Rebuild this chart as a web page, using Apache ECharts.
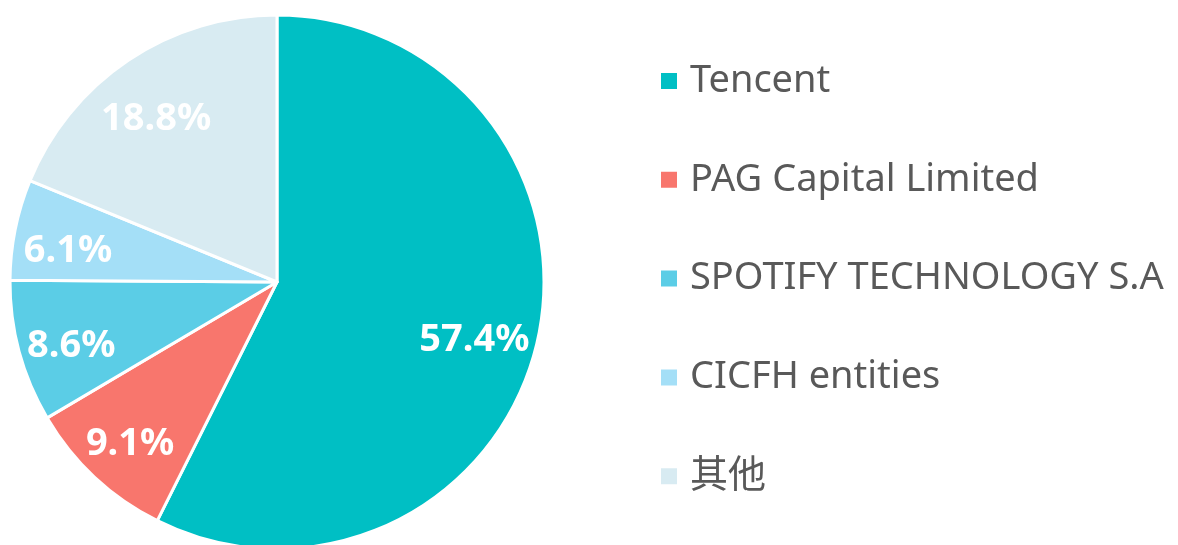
<!DOCTYPE html>
<html>
<head>
<meta charset="utf-8">
<script src="https://cdn.jsdelivr.net/npm/echarts@6/dist/echarts.min.js"></script>
<style>
  html, body { margin: 0; padding: 0; background: #fff; }
  #main { width: 1178px; height: 545px; }
</style>
</head>
<body>
<div id="main"></div>
<script>
// 股东名称
var names = ['Tencent', 'PAG Capital Limited', 'SPOTIFY TECHNOLOGY S.A', 'CICFH entities', '其他'];
// 持股比例 (%)
var shares = [57.4, 9.1, 8.6, 6.1, 18.8];
var colors = ['#00BFC4', '#F8766D', '#5BCDE6', '#A4DFF7', '#D8EBF2'];

var chart = echarts.init(document.getElementById('main'), null, { renderer: 'canvas' });

var pieData = [];
for (var i = 0; i < names.length; i++) {
  pieData.push({ name: names[i], value: shares[i], itemStyle: { color: colors[i] } });
}

chart.setOption({
  animation: false,
  legend: {
    orient: 'vertical',
    left: 659,
    top: 61,
    padding: 0,
    icon: 'rect',
    itemWidth: 18,
    itemHeight: 18,
    itemGap: 58.8,
    data: names,
    textStyle: {
      fontFamily: '"Noto Sans", "Noto Sans CJK SC", sans-serif',
      fontSize: 38,
      lineHeight: 40,
      color: '#595959',
      padding: [0, 0, 0, 7]
    }
  },
  series: [
    {
      // 饼图本体
      type: 'pie',
      center: [277, 282],
      radius: [0, 267],
      startAngle: 90,
      data: pieData,
      itemStyle: { borderColor: '#fff', borderWidth: 3 },
      label: { show: false },
      labelLine: { show: false }
    },
    {
      // 只用来放百分比标签
      type: 'pie',
      silent: true,
      center: [277, 282],
      radius: [143, 267],
      startAngle: 90,
      data: pieData.map(function (d) { return { name: d.name, value: d.value, itemStyle: { color: 'transparent' } }; }),
      itemStyle: { borderWidth: 0 },
      label: {
        show: true,
        position: 'inside',
        offset: [-5, 10],
        formatter: function (p) { return p.value.toFixed(1) + '%'; },
        color: '#fff',
        fontFamily: '"Noto Sans", sans-serif',
        fontWeight: 'bold',
        fontSize: 38
      },
      labelLine: { show: false }
    }
  ]
});
</script>
</body>
</html>
